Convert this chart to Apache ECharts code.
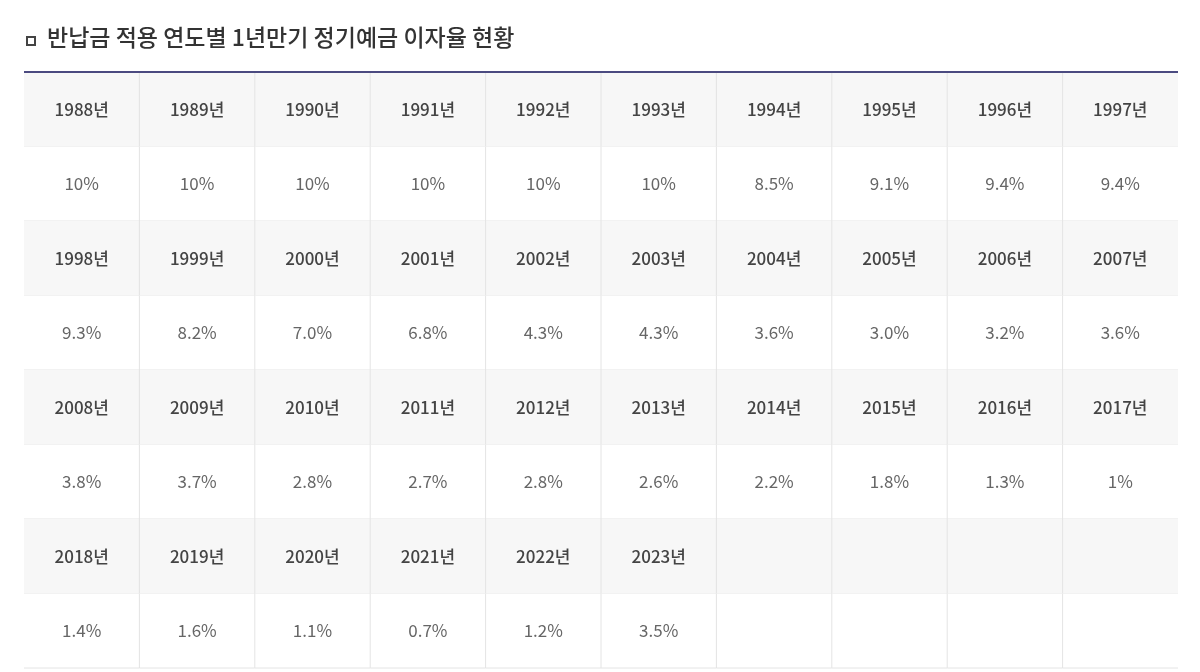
<!DOCTYPE html>
<html><head><meta charset="utf-8">
<script src="https://cdn.jsdelivr.net/npm/echarts@6/dist/echarts.min.js"></script>
<style>html,body{margin:0;padding:0;background:#fff}#c{width:1200px;height:672px}</style>
</head><body><div id="c"></div>
<script>
const titleText = '반납금 적용 연도별 1년만기 정기예금 이자율 현황';
const years = [1988,1989,1990,1991,1992,1993,1994,1995,1996,1997,1998,1999,2000,2001,2002,2003,2004,2005,2006,2007,2008,2009,2010,2011,2012,2013,2014,2015,2016,2017,2018,2019,2020,2021,2022,2023];
const rateLabels = ['10%','10%','10%','10%','10%','10%','8.5%','9.1%','9.4%','9.4%','9.3%','8.2%','7.0%','6.8%','4.3%','4.3%','3.6%','3.0%','3.2%','3.6%','3.8%','3.7%','2.8%','2.7%','2.8%','2.6%','2.2%','1.8%','1.3%','1%','1.4%','1.6%','1.1%','0.7%','1.2%','3.5%'];
const COLS = 10, BLOCKS = 4;

const cells = [];
for (let b = 0; b < BLOCKS; b++) {
  for (let c = 0; c < COLS; c++) {
    const i = b * COLS + c;
    const has = i < years.length;
    cells.push([c, b * 2, has ? years[i] + '년' : '', 1]);
    cells.push([c, b * 2 + 1, has ? rateLabels[i] : '', 0]);
  }
}
const font = '"Noto Sans CJK KR","Noto Sans",sans-serif';
const chart = echarts.init(document.getElementById('c'));
chart.setOption({
  animation: false,
  title: { text: titleText, left: 42, top: 21, textStyle: { fontFamily: font, fontSize: 23, fontWeight: 500, color: '#333' } },
  graphic: [{ type: 'rect', left: 26, top: 36, shape: { width: 8, height: 8 }, style: { fill: '#fff', stroke: '#444', lineWidth: 2 } }],
  grid: { left: 24, right: 22, top: 72, bottom: 4 },
  xAxis: { type: 'value', min: 0, max: COLS, show: false },
  yAxis: { type: 'value', min: 0, max: BLOCKS * 2, inverse: true, show: false },
  series: [{
    type: 'custom',
    data: cells,
    renderItem: function (params, api) {
      const c = api.value(0), r = api.value(1), hdr = api.value(3);
      const p0 = api.coord([c, r]), p1 = api.coord([c + 1, r + 1]);
      const ls = { stroke: '#e4e4e4', lineWidth: 1 };
      const kids = [
        { type: 'rect', shape: { x: p0[0], y: p0[1], width: p1[0] - p0[0], height: p1[1] - p0[1] },
          style: { fill: hdr ? '#f7f7f7' : '#fff' } },
        { type: 'line', shape: { x1: p0[0], y1: p1[1], x2: p1[0], y2: p1[1] }, style: ls },
        { type: 'text', x: (p0[0] + p1[0]) / 2, y: (p0[1] + p1[1]) / 2,
          style: { text: cells[params.dataIndex][2], align: 'center', verticalAlign: 'middle',
            fontFamily: font, fontSize: 17, fontWeight: hdr ? 500 : 400, fill: hdr ? '#444' : '#666' } }
      ];
      if (c > 0) kids.push({ type: 'line', shape: { x1: p0[0], y1: p0[1], x2: p0[0], y2: p1[1] }, style: ls });
      return { type: 'group', children: kids };
    }
  }, {
    type: 'line', silent: true, symbol: 'none',
    data: [[0, 0], [COLS, 0]],
    lineStyle: { color: '#4b4a80', width: 2 }
  }]
});
</script></body></html>
